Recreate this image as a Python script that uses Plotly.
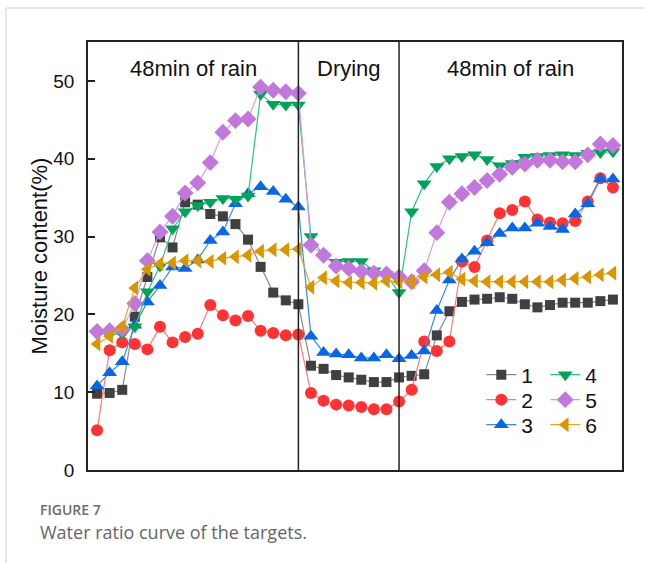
import plotly.graph_objects as go

# ---------------- data ----------------
x_index = list(range(42))          # sampling points (rain 0-16, drying 16-24, rain 24-41)
phase_bounds = [16, 24]
phase_labels = ["48min of rain", "Drying", "48min of rain"]

s1 = [9.8, 9.9, 10.3, 19.7, 24.8, 29.9, 28.6, 34.4, 34.1, 32.9, 32.6, 31.6, 29.6, 26.1, 22.8, 21.8, 21.3,
      13.4, 13.0, 12.2, 11.9, 11.6, 11.3, 11.3,
      11.9, 12.1, 12.3, 17.3, 20.4, 21.6, 21.9, 22.0, 22.2, 22.0, 21.3, 20.9, 21.2, 21.5, 21.5, 21.5, 21.7, 21.9]
s2 = [5.1, 15.4, 16.4, 16.2, 15.5, 18.4, 16.4, 17.1, 17.5, 21.2, 19.9, 19.2, 19.8, 17.9, 17.6, 17.3, 17.4,
      9.9, 8.9, 8.4, 8.3, 8.1, 7.8, 7.8,
      8.8, 10.3, 16.5, 15.3, 16.5, 26.8, 26.1, 29.5, 33.0, 33.4, 34.5, 32.2, 31.8, 31.7, 32.0, 34.5, 37.5, 36.3]
s3 = [10.8, 12.5, 13.9, 18.6, 21.6, 23.7, 26.1, 25.9, 27.0, 29.5, 30.6, 34.2, 35.5, 36.4, 35.8, 34.8, 33.8,
      17.2, 15.1, 14.9, 14.8, 14.4, 14.4, 14.8,
      14.3, 14.7, 15.3, 20.5, 24.4, 27.1, 28.1, 29.2, 30.4, 31.1, 31.1, 31.7, 31.3, 30.9, 32.9, 34.2, 37.4, 37.4]
s4 = [17.6, 17.4, 17.5, 18.4, 22.9, 26.2, 31.0, 33.2, 34.0, 34.4, 34.9, 34.8, 35.2, 48.3, 47.0, 46.9, 46.9,
      30.0, 27.4, 26.7, 26.8, 26.8, 25.6, 25.1,
      22.8, 33.2, 36.8, 39.0, 40.0, 40.3, 40.5, 39.9, 39.1, 39.4, 40.2, 40.3, 40.4, 40.5, 40.4, 40.7, 40.8, 40.9]
s5 = [17.8, 17.9, 18.1, 21.4, 26.9, 30.6, 32.6, 35.6, 36.9, 39.5, 43.4, 44.9, 45.1, 49.2, 48.8, 48.6, 48.4,
      28.9, 27.6, 26.2, 25.9, 25.5, 25.3, 25.2,
      24.8, 24.2, 25.6, 30.5, 34.4, 35.5, 36.3, 37.2, 38.0, 38.9, 39.3, 39.8, 39.8, 39.6, 39.6, 40.5, 41.9, 41.7]
s6 = [16.2, 17.2, 18.4, 23.4, 25.8, 26.5, 26.6, 26.9, 26.9, 26.8, 27.2, 27.4, 27.6, 28.1, 28.3, 28.3, 28.4,
      23.5, 24.7, 24.3, 24.1, 24.1, 24.0, 24.3,
      24.2, 24.2, 24.8, 25.1, 25.4, 24.5, 24.3, 24.2, 24.2, 24.2, 24.2, 24.2, 24.2, 24.4, 24.6, 24.8, 25.1, 25.3]

series_names = ["1", "2", "3", "4", "5", "6"]
y_ticks = [0, 10, 20, 30, 40, 50]

# ---------------- styles ----------------
# legend rows: (1,4), (2,5), (3,6)
styles = [
    dict(symbol="square", size=10, mcolor="#404040", lcolor="#8a8a8a", legend="legend"),
    dict(symbol="circle", size=12, mcolor="#FF3333", lcolor="#FF7a7a", legend="legend2"),
    dict(symbol="triangle-up", size=13, mcolor="#0a66e4", lcolor="#3a8ae8", legend="legend3"),
    dict(symbol="triangle-down", size=13, mcolor="#00a35a", lcolor="#2cc083", legend="legend"),
    dict(symbol="diamond", size=13, mcolor="#c277dd", lcolor="#d49ce8", legend="legend2"),
    dict(symbol="triangle-left", size=13, mcolor="#d99600", lcolor="#e0a828", legend="legend3"),
]
all_series = [s1, s2, s3, s4, s5, s6]

fig = go.Figure()
for name, ys, st in zip(series_names, all_series, styles):
    fig.add_trace(go.Scatter(
        x=x_index, y=ys, name=name, mode="lines+markers",
        line=dict(color=st["lcolor"], width=1.2),
        marker=dict(symbol=st["symbol"], size=st["size"], color=st["mcolor"], line=dict(width=0)),
        legend=st["legend"],
    ))

for b in phase_bounds:
    fig.add_vline(x=b, line=dict(color="#222222", width=1.5), layer="above")

ann_font = dict(family="Liberation Sans, Arial, sans-serif", size=22, color="#111111")
centers_x = [(-0.72 + phase_bounds[0]) / 2, (phase_bounds[0] + phase_bounds[1]) / 2, (phase_bounds[1] + 41.72) / 2]
for cx, lab in zip(centers_x, phase_labels):
    fig.add_annotation(x=cx, xref="x", y=0.937, yref="paper", text=lab, showarrow=False,
                       font=ann_font, xanchor="center", yanchor="middle")

# caption
fig.add_annotation(x=-0.0936, y=-0.0915, xref="paper", yref="paper", text="FIGURE 7", showarrow=False,
                   xanchor="left", yanchor="middle",
                   font=dict(family="Open Sans, Noto Sans, sans-serif", size=14, color="#6b6b6b", weight=600))
fig.add_annotation(x=-0.0936, y=-0.145, xref="paper", yref="paper", text="Water ratio curve of the targets.",
                   showarrow=False, xanchor="left", yanchor="middle",
                   font=dict(family="Open Sans, Noto Sans, sans-serif", size=18, color="#666666"))

# outer page frame (light grey)
fig.add_shape(type="path", xref="paper", yref="paper",
              path="M -0.1536 -0.3 L -0.1536 1.0794 L 1.2 1.0794",
              line=dict(color="#d2d2d2", width=1))

axis_font = dict(family="Liberation Sans, Arial, sans-serif", size=19, color="#111111")
leg_font = dict(family="Liberation Sans, Arial, sans-serif", size=21, color="#111111")
row_y = [0.222, 0.1636, 0.105]
legends = {}
for i, yv in enumerate(row_y):
    key = "legend" if i == 0 else f"legend{i+1}"
    legends[key] = dict(x=0.7365, y=yv, xanchor="left", yanchor="middle", orientation="h",
                        bgcolor="rgba(0,0,0,0)", font=leg_font, entrywidth=19, entrywidthmode="pixels",
                        itemwidth=30)

fig.update_layout(
    width=645, height=563,
    margin=dict(l=88, r=23, t=42, b=93),
    paper_bgcolor="white", plot_bgcolor="white",
    font=axis_font,
    xaxis=dict(range=[-0.72, 41.72], showticklabels=False, ticks="", showgrid=False, zeroline=False,
               showline=True, mirror=True, linecolor="#222222", linewidth=1.5),
    yaxis=dict(range=[0, 55], tickvals=y_ticks, ticks="inside", ticklen=7, tickwidth=1.5, tickcolor="#222222",
               ticklabelstandoff=8,
               showgrid=False, zeroline=False, showline=True, mirror=True, linecolor="#222222", linewidth=1.5,
               title=dict(text="Moisture content(%)", font=dict(family="Liberation Sans, Arial, sans-serif", size=22),
                          standoff=0),
               tickfont=axis_font),
    showlegend=True,
    **legends,
)

fig.write_html("out.html", config={"displayModeBar": False},
               post_script="document.body.style.margin='0';document.body.style.overflow='hidden';")
